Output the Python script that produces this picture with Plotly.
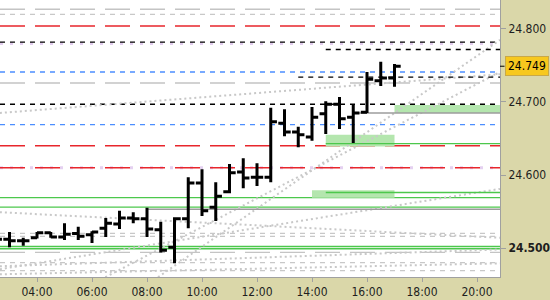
import plotly.graph_objects as go

DAY = "2024-01-15 "

# ---------------- data ----------------
bar_times = ["02:30", "03:00", "03:30", "04:00", "04:30", "05:00", "05:30", "06:00",
             "06:30", "07:00", "07:30", "08:00", "08:30", "09:00", "09:30", "10:00",
             "10:30", "11:00", "11:30", "12:00", "12:30", "13:00", "13:30", "14:00",
             "14:30", "15:00", "15:30", "16:00", "16:30", "17:00"]
opens = [24.512, 24.512, 24.510, 24.514, 24.521, 24.515, 24.520, 24.518,
         24.527, 24.533, 24.541, 24.540, 24.525, 24.501, 24.540, 24.589,
         24.556, 24.577, 24.604, 24.597, 24.597, 24.671, 24.659, 24.652,
         24.684, 24.697, 24.679, 24.686, 24.729, 24.733]
highs = [24.516, 24.522, 24.514, 24.522, 24.522, 24.534, 24.529, 24.523,
         24.541, 24.551, 24.549, 24.555, 24.536, 24.542, 24.597, 24.608,
         24.590, 24.615, 24.623, 24.616, 24.692, 24.690, 24.666, 24.693,
         24.701, 24.707, 24.697, 24.741, 24.755, 24.752]
lows = [24.507, 24.501, 24.503, 24.513, 24.514, 24.511, 24.511, 24.507,
        24.515, 24.526, 24.534, 24.515, 24.494, 24.479, 24.527, 24.544,
        24.537, 24.575, 24.582, 24.585, 24.590, 24.653, 24.638, 24.647,
        24.656, 24.663, 24.644, 24.685, 24.722, 24.721]
closes = [24.512, 24.510, 24.510, 24.521, 24.515, 24.519, 24.516, 24.522,
          24.534, 24.541, 24.540, 24.526, 24.497, 24.540, 24.589, 24.551,
          24.571, 24.603, 24.596, 24.597, 24.673, 24.659, 24.655, 24.679,
          24.697, 24.677, 24.685, 24.731, 24.733, 24.749]

view_start = "02:39:16"
view_end = "20:50:11"
price_bottom = 24.4603
price_top = 24.8397

tick_values = [24.5, 24.6, 24.7, 24.8]
tick_labels = ["<b>24.500</b>", "24.600", "24.700", "24.800"]

gray_long_levels = [24.827, 24.726, 24.494]
gray_short_levels = [24.820, 24.520, 24.516, 24.480, 24.469]
red_levels = [24.804, 24.640, 24.610]
lilac_levels = [24.780, 24.610]
black_levels = [24.782, 24.697]
blue_levels = [24.741, 24.669]
green_levels = [24.569, 24.556, 24.502, 24.499]

black_partial_starts = ["14:30", "13:30"]
black_partial_levels = [24.772, 24.734]
green_partial_starts = ["14:30", "14:30"]
green_partial_levels = [24.643, 24.576]
gray_solid_starts = ["15:30", "08:00"]
gray_solid_levels = [24.685, 24.553]

zone_starts = ["14:00", "14:30", "17:00"]
zone_ends = ["17:00", "17:00", view_end]
zone_lows = [24.569, 24.639, 24.685]
zone_highs = [24.579, 24.655, 24.696]

trend_t0 = ["02:39", "08:24", "06:29", "02:39", "02:39", "02:39", "02:39"]
trend_p0 = [24.685, 24.460, 24.460, 24.471, 24.549, 24.475, 24.464]
trend_t1 = ["20:50", "20:50", "20:50", "20:50", "20:50", "20:50", "20:50"]
trend_p1 = [24.738, 24.785, 24.741, 24.581, 24.514, 24.498, 24.479]

# ---------------- figure ----------------
KHAKI = "#DAD7A9"
AXIS_GRAY = "#A0A0A0"
FONT = "DejaVu Sans Condensed, DejaVu Sans, sans-serif"

def t(s):
    return DAY + s

shapes = []

def hline(level, color, width, dash, start=None, end=None):
    if start is None:
        shapes.append(dict(type="line", xref="x domain", yref="y", x0=0, x1=1,
                           y0=level, y1=level, layer="below",
                           line=dict(color=color, width=width, dash=dash)))
    else:
        shapes.append(dict(type="line", xref="x", yref="y", x0=t(start),
                           x1=t(end if end else view_end),
                           y0=level, y1=level, layer="below",
                           line=dict(color=color, width=width, dash=dash)))

# zones
for s, e, lo, hi in zip(zone_starts, zone_ends, zone_lows, zone_highs):
    shapes.append(dict(type="rect", xref="x", yref="y", x0=t(s), x1=t(e),
                       y0=lo, y1=hi, layer="below", fillcolor="#B4E6AE",
                       line=dict(width=0)))

# trend lines
for a, pa, b, pb in zip(trend_t0, trend_p0, trend_t1, trend_p1):
    shapes.append(dict(type="line", xref="x", yref="y", x0=t(a), x1=t(b),
                       y0=pa, y1=pb, layer="below",
                       line=dict(color="#C8C8C8", width=2, dash="2px,3px")))

for lv in gray_long_levels:
    hline(lv, "#C4C4C4", 1.3, "25px,10px")
for lv in gray_short_levels:
    hline(lv, "#C8C8C8", 1.2, "5px,5px")
for lv in lilac_levels:
    hline(lv, "#E4D0F0", 3, "3px,7px")
for lv in red_levels:
    hline(lv, "#E8262C", 1.6, "25px,10px")
for lv in black_levels:
    hline(lv, "#000000", 1.4, "5px,5px")
for lv in blue_levels:
    hline(lv, "#4C8EFF", 1.4, "5px,5px")
for lv in green_levels:
    hline(lv, "#4CC84C", 1.4, "solid")
for s, lv in zip(black_partial_starts, black_partial_levels):
    hline(lv, "#000000", 1.4, "5px,5px", start=s)
for s, lv in zip(green_partial_starts, green_partial_levels):
    hline(lv, "#4CC84C", 1.4, "solid", start=s)
for s, lv in zip(gray_solid_starts, gray_solid_levels):
    hline(lv, "#9C9C9C", 1.4, "solid", start=s)

# current price tick on the axis
shapes.append(dict(type="line", xref="paper", yref="y", x0=1, x1=1.009,
                   y0=closes[-1], y1=closes[-1], line=dict(color="#000000", width=1)))

fig = go.Figure()
fig.add_trace(go.Ohlc(
    x=[t(s) for s in bar_times], open=opens, high=highs, low=lows, close=closes,
    increasing=dict(line=dict(color="#000000", width=3)),
    decreasing=dict(line=dict(color="#000000", width=3)),
    tickwidth=0.45, hoverinfo="skip", showlegend=False,
))

fig.update_layout(
    width=550, height=300,
    margin=dict(l=0, r=50, t=0, b=23),
    paper_bgcolor=KHAKI, plot_bgcolor="#FFFFFF",
    showlegend=False,
    shapes=shapes,
    font=dict(family=FONT, size=12, color="#1E1E1E"),
    xaxis=dict(
        type="date", range=[t(view_start), t(view_end)],
        tickformat="%H:%M", dtick=7200000, tick0=t("00:00"),
        ticks="outside", ticklen=4, tickcolor=AXIS_GRAY,
        showline=True, linecolor=AXIS_GRAY, linewidth=1,
        showgrid=False, zeroline=False,
        rangeslider=dict(visible=False),
        tickfont=dict(family=FONT, size=12, color="#1E1E1E"),
    ),
    yaxis=dict(
        side="right", range=[price_bottom, price_top],
        tickvals=tick_values, ticktext=tick_labels,
        ticks="outside", ticklen=5, tickcolor=AXIS_GRAY,
        showline=True, linecolor=AXIS_GRAY, linewidth=1,
        showgrid=False, zeroline=False,
        tickfont=dict(family=FONT, size=12, color="#1E1E1E"),
    ),
    annotations=[dict(
        xref="paper", yref="y", x=1, y=closes[-1], xanchor="left", yanchor="middle",
        xshift=5, text=f"{closes[-1]:.3f}", showarrow=False,
        bgcolor="#F7C81E", bordercolor="#C8A848", borderwidth=1, borderpad=2,
        font=dict(family=FONT, size=12, color="#000000"),
    )],
)

fig.write_html("out.html")
